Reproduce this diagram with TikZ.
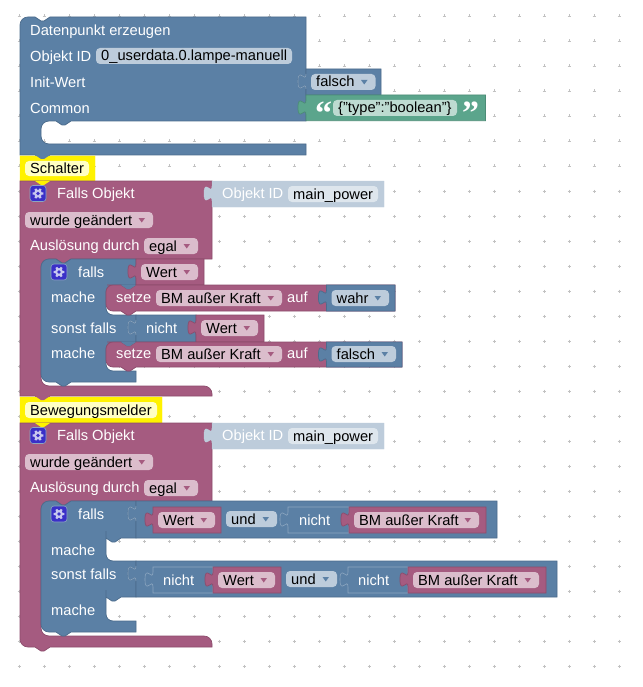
\documentclass[tikz,border=0pt]{standalone}
\usepackage{fontspec}
\setmainfont{Liberation Sans}
\newfontfamily\qfont{Liberation Serif}
\definecolor{bl}{HTML}{5B80A5}
\definecolor{bld}{HTML}{4C6C8C}
\definecolor{bll}{HTML}{8CA6C0}
\definecolor{blf}{HTML}{BDCCDB}
\definecolor{pu}{HTML}{A55B80}
\definecolor{pud}{HTML}{8C4C6C}
\definecolor{puf}{HTML}{DBBDCC}
\definecolor{gr}{HTML}{5BA58C}
\definecolor{grd}{HTML}{4C8C76}
\definecolor{grf}{HTML}{BDDBD1}
\definecolor{sh}{HTML}{BDCCDB}
\definecolor{shf}{HTML}{DEE6ED}
\definecolor{gearb}{HTML}{3A2FC8}
\definecolor{gearl}{HTML}{C8C8F0}
\definecolor{cmf}{HTML}{FFFFC4}
\tikzset{
 x=1pt,y=-1pt,
 lab/.style={font=\fontsize{14.67}{16}\selectfont,text=white,inner sep=0pt,anchor=base west},
 fldt/.style={font=\fontsize{14.67}{16}\selectfont,text=black,inner sep=0pt,anchor=base west},
 quot/.style={font=\qfont\bfseries\fontsize{34}{34}\selectfont,text=white,inner sep=0pt,anchor=base west},
 blueblk/.style={fill=bl,draw=bld,line width=.7pt},
 purpleblk/.style={fill=pu,draw=pud,line width=.7pt},
 greenblk/.style={fill=gr,draw=grd,line width=.7pt},
 nested/.style={fill=bl,draw=bll,line width=.6pt},
}
% horizontal rect block with tab at left: x1,y1,x2,y2,style
\newcommand{\vblk}[5]{%
 \draw[#5] (#1,#2) -- (#3,#2) -- (#3,#4) -- (#1,#4) -- (#1,#2+20)
  .. controls (#1,#2+10) and (#1-8,#2+28) .. (#1-8,#2+12.5)
  .. controls (#1-8,#2-3) and (#1,#2+15) .. (#1,#2+5) -- cycle;}
% tab highlight on a blue block: x,y
\newcommand{\tabline}[2]{%
 \draw[bll,line width=.6pt] (#1,#2+20)
  .. controls (#1,#2+10) and (#1-8,#2+28) .. (#1-8,#2+12.5)
  .. controls (#1-8,#2-3) and (#1,#2+15) .. (#1,#2+5);}
% dropdown field: x1,y,x2,text,fill,arrow colour,name
\newcommand{\dd}[7]{%
 \fill[#5,rounded corners=4pt] (#1,#2) rectangle (#3,#2+16);
 \node[fldt] (#7) at (#1+5,#2+13) {#4};
 \fill[#6] (#3-14.5,#2+6) -- (#3-8,#2+6) -- (#3-11.25,#2+10.5) -- cycle;}
% text field: x1,y,x2,text,fill,name
\newcommand{\tf}[6]{%
 \fill[#5,rounded corners=4pt] (#1,#2) rectangle (#3,#2+16);
 \node[fldt] (#6) at (#1+5,#2+13) {#4};}
% gear: x,y
\newcommand{\gear}[2]{%
 \fill[gearb,draw=bll,line width=.6pt,rounded corners=3pt] (#1,#2) rectangle (#1+16,#2+16);
 \fill[gearl] (#1+8,#2+8) circle (4pt);
 \foreach \a in {0,60,...,300} {\fill[gearl] (#1+8,#2+8) ++(\a:3.2) -- ++(\a+90:1.1) -- ++(\a:2.1) -- ++(\a-90:2.2) -- ++(\a:-2.1) -- cycle;}
 \fill[gearb] (#1+8,#2+8) circle (1.9pt);}
\begin{document}
\begin{tikzpicture}
\useasboundingbox (0,0) rectangle (642,687);
\fill[white] (0,0) rectangle (642,687);
% grid
\foreach \i in {0,...,24} \foreach \j in {0,...,26} {
 \draw[black!24,line width=.5pt] (19+25*\i-1.5,16+25*\j) -- ++(3,0) (19+25*\i,16+25*\j-1.5) -- ++(0,3);}
%
% ===== Datenpunkt erzeugen =====
\draw[blueblk] (20,25) .. controls (20,20.6) and (23.6,17) .. (28,17) -- (35,17) -- ++(6,4) -- ++(3,0) -- ++(6,-4) -- (306,17) -- (306,121) -- (71,121) -- ++(-6,4) -- ++(-3,0) -- ++(-6,-4)
 [rounded corners=8pt] -- (41,121) -- (41,144) -- (60,144) [sharp corners] -- (306,144) -- (306,155) -- (50,155) -- ++(-6,4) -- ++(-3,0) -- ++(-6,-4) -- (20,155) -- cycle;
\node[lab] (t1) at (30,35.5) {Datenpunkt erzeugen};
\node[lab] (t2) at (30,61.5) {Objekt ID};
\tf{96}{48}{292}{0\_userdata.0.lampe-manuell}{blf}{f1}
\node[lab] (t3) at (30,87.5) {Init-Wert};
\node[lab] (t4) at (30,113.5) {Common};
\vblk{306}{69}{381}{95}{blueblk}
\tabline{306}{69}
\dd{311}{74}{375.5}{falsch}{blf}{bl}{f2}
\vblk{306}{95}{485.5}{120.7}{greenblk}
\node[quot] (q1) at (315,125) {“};
\tf{333}{100}{457}{\{"type":"boolean"\}}{grf}{f3}
\node[quot] (q2) at (462,125) {”};
%
% ===== comment Schalter =====
\draw[fill=yellow,draw=yellow] (20,156) -- (95,156) -- (95,181) -- (50,181) -- ++(-6,4) -- ++(-3,0) -- ++(-6,-4) -- (20,181) -- cycle;
\fill[bl] (35,155) -- ++(6,4) -- ++(3,0) -- ++(6,-4) -- cycle;
\fill[cmf,rounded corners=4pt] (25,161) rectangle (89,176);
\node[fldt] (c1) at (30,173.5) {Schalter};
%
% ===== Falls Objekt 1 =====
\draw[purpleblk] (20,181) -- (212,181) -- (212,259)
 -- (71,259) -- ++(-6,4) -- ++(-3,0) -- ++(-6,-4) [rounded corners=8pt] -- (41,259) -- (41,386) -- (212,386) [sharp corners] -- (212,396) -- (50,396) -- ++(-6,4) -- ++(-3,0) -- ++(-6,-4) -- (20,396) -- cycle;
\fill[yellow] (35,181) -- ++(6,4) -- ++(3,0) -- ++(6,-4) -- cycle;
\gear{30}{185.5}
\node[lab] (t5) at (57,198.5) {Falls Objekt};
\vblk{212}{181}{384}{207}{fill=sh,draw=sh}
\node[lab] (t6) at (222,198.5) {Objekt ID};
\tf{288}{186}{378}{main\_power}{shf}{f4}
\dd{25}{212}{153}{wurde geändert}{puf}{pu}{f5}
\node[lab] (t7) at (30,250.5) {Auslösung durch};
\dd{144}{238}{198}{egal}{puf}{pu}{f6}
%
% inner blue 1
\draw[blueblk] (41,267) .. controls (41,262.6) and (44.6,259) .. (49,259) -- (56,259) -- ++(6,4) -- ++(3,0) -- ++(6,-4) -- (136,259) -- (136,285) -- (121,285) [rounded corners=7pt] -- (106,285) -- (106,315) -- (121,315) [sharp corners] -- (136,315) -- (136,342) -- (121,342) [rounded corners=7pt] -- (106,342) -- (106,371) -- (121,371) [sharp corners] -- (136,371) -- (136,382) -- (71,382) -- ++(-6,4) -- ++(-3,0) -- ++(-6,-4) [rounded corners=8pt] -- (41,382) -- (41,320) [sharp corners] -- cycle;
\gear{51}{264}
\node[lab] (t8) at (78,277.5) {falls};
\node[lab] (t9) at (51,302.5) {mache};
\node[lab] (t10) at (51,333.5) {sonst falls};
\node[lab] (t11) at (51,358.5) {mache};
\vblk{136}{259}{204}{285}{purpleblk}
\dd{141}{264}{198}{Wert}{puf}{pu}{f7}
% setze 1
\draw[purpleblk] (121,285) -- ++(6,4) -- ++(3,0) -- ++(6,-4) -- (395,285) -- (395,311) -- (136,311) -- ++(-6,4) -- ++(-3,0) -- ++(-6,-4) -- (114,311) [rounded corners=7pt] -- (106,311) -- (106,285) -- (114,285) [sharp corners] -- cycle;
\fill[bl] (121,285) -- ++(6,4) -- ++(3,0) -- ++(6,-4) -- cycle;
\node[lab] (t12) at (116,302.5) {setze};
\dd{156}{290}{282}{BM außer Kraft}{puf}{pu}{f8}
\node[lab] (t13) at (287,302.5) {auf};
\vblk{326.5}{285}{395}{311}{blueblk}
\dd{331.5}{290}{389}{wahr}{blf}{bl}{f9}
\vblk{136}{315}{196}{342}{blueblk}
\tabline{136}{315}
\node[lab] (t14) at (146,333.5) {nicht};
\vblk{196}{315}{264}{342}{purpleblk}
\dd{201}{320}{258}{Wert}{puf}{pu}{f10}
% setze 2
\draw[purpleblk] (121,342) -- ++(6,4) -- ++(3,0) -- ++(6,-4) -- (402,342) -- (402,367) -- (136,367) -- ++(-6,4) -- ++(-3,0) -- ++(-6,-4) -- (114,367) [rounded corners=7pt] -- (106,367) -- (106,342) -- (114,342) [sharp corners] -- cycle;
\fill[bl] (121,342) -- ++(6,4) -- ++(3,0) -- ++(6,-4) -- cycle;
\node[lab] (t15) at (116,358.5) {setze};
\dd{156}{346}{282}{BM außer Kraft}{puf}{pu}{f11}
\node[lab] (t16) at (287,358.5) {auf};
\vblk{326.5}{342}{402}{367}{blueblk}
\dd{331.5}{346}{396}{falsch}{blf}{bl}{f12}
%
% ===== comment Bewegungsmelder =====
\draw[fill=yellow,draw=yellow] (20,397) -- (162,397) -- (162,423) -- (50,423) -- ++(-6,4) -- ++(-3,0) -- ++(-6,-4) -- (20,423) -- cycle;
\fill[pu] (35,396) -- ++(6,4) -- ++(3,0) -- ++(6,-4) -- cycle;
\fill[cmf,rounded corners=4pt] (25,402) rectangle (157,418);
\node[fldt] (c2) at (30,415.5) {Bewegungsmelder};
%
% ===== Falls Objekt 2 =====
\draw[purpleblk] (20,423) -- (212,423) -- (212,501)
 -- (71,501) -- ++(-6,4) -- ++(-3,0) -- ++(-6,-4) [rounded corners=8pt] -- (41,501) -- (41,636) -- (212,636) [sharp corners] -- (212,647) -- (50,647) -- ++(-6,4) -- ++(-3,0) -- ++(-6,-4) [rounded corners=8pt] -- (20,647) -- (20,500) [sharp corners] -- cycle;
\fill[yellow] (35,423) -- ++(6,4) -- ++(3,0) -- ++(6,-4) -- cycle;
\gear{30}{427.5}
\node[lab] (t17) at (57,440.5) {Falls Objekt};
\vblk{212}{423}{384}{449}{fill=sh,draw=sh}
\node[lab] (t18) at (222,440.5) {Objekt ID};
\tf{288}{428}{378}{main\_power}{shf}{f13}
\dd{25}{454}{153}{wurde geändert}{puf}{pu}{f14}
\node[lab] (t19) at (30,492.5) {Auslösung durch};
\dd{144}{480}{198}{egal}{puf}{pu}{f15}
%
% inner blue 2
\draw[blueblk] (41,509) .. controls (41,504.6) and (44.6,501) .. (49,501) -- (56,501) -- ++(6,4) -- ++(3,0) -- ++(6,-4) -- (136,501) -- (136,538) -- ++(-15,0) -- ++(-6,4) -- ++(-3,0) -- ++(-6,-4) [rounded corners=7pt] -- (106,538) -- (106,561) -- (121,561) [sharp corners] -- (136,561) -- (136,597) -- ++(-15,0) -- ++(-6,4) -- ++(-3,0) -- ++(-6,-4) [rounded corners=7pt] -- (106,597) -- (106,621) -- (121,621) [sharp corners] -- (136,621) -- (136,632) -- (71,632) -- ++(-6,4) -- ++(-3,0) -- ++(-6,-4) [rounded corners=8pt] -- (41,632) -- (41,570) [sharp corners] -- cycle;
\gear{51}{506}
\node[lab] (t20) at (78,519.5) {falls};
\node[lab] (t21) at (51,555.5) {mache};
\node[lab] (t22) at (51,579.5) {sonst falls};
\node[lab] (t23) at (51,615.5) {mache};
% row 1
\vblk{136}{501}{497}{538}{blueblk}
\tabline{136}{501}
\vblk{153}{507}{221}{533}{purpleblk}
\dd{158}{512}{215}{Wert}{puf}{pu}{f16}
\dd{226}{511}{277}{und}{blf}{bl}{f17}
\vblk{288}{507}{349}{533}{nested}
\node[lab] (t24) at (299,525.5) {nicht};
\vblk{349}{507}{486}{533}{purpleblk}
\dd{354}{512}{479}{BM außer Kraft}{puf}{pu}{f18}
% row 2
\vblk{136}{561}{557}{597}{blueblk}
\tabline{136}{561}
\vblk{153}{567}{213}{593}{nested}
\node[lab] (t25) at (163,585.5) {nicht};
\vblk{213}{567}{281}{593}{purpleblk}
\dd{218}{572}{275}{Wert}{puf}{pu}{f19}
\dd{286}{571}{337}{und}{blf}{bl}{f20}
\vblk{348}{567}{408}{593}{nested}
\node[lab] (t26) at (358,585.5) {nicht};
\vblk{408}{567}{546}{593}{purpleblk}
\dd{413}{572}{539}{BM außer Kraft}{puf}{pu}{f21}
\end{tikzpicture}
\end{document}
